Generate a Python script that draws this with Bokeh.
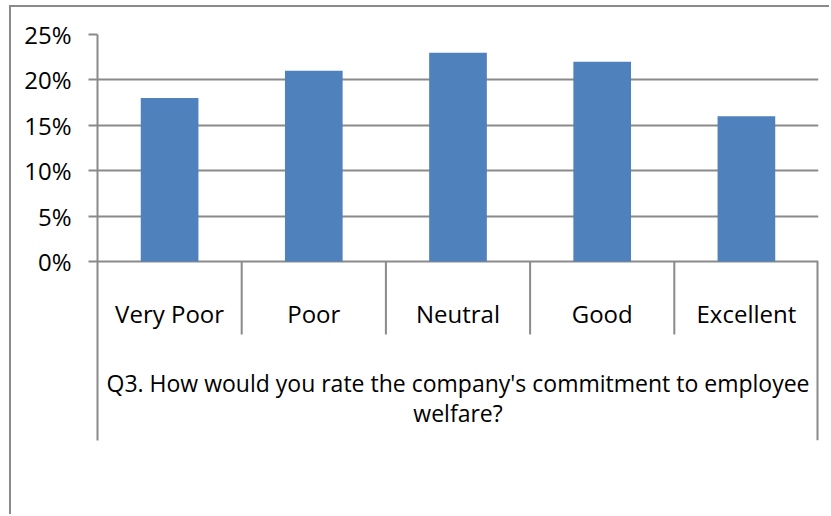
from bokeh.plotting import figure
from bokeh.models import Range1d, FixedTicker, NumeralTickFormatter, ColumnDataSource
from bokeh.embed import file_html
from bokeh.resources import INLINE
from bokeh.core.properties import value

# ---- data ----
categories = ["Very Poor", "Poor", "Neutral", "Good", "Excellent"]
percentages = [0.18, 0.21, 0.23, 0.22, 0.16]
y_ticks = [0.0, 0.05, 0.10, 0.15, 0.20, 0.25]
axis_title_lines = ["Q3. How would you rate the company's commitment to employee",
                    "welfare?"]

BAR = "#4F81BD"
GRID = "#8a8a8a"
FONT = "Open Sans"

# pixel helpers (page y -> data y); 0% at page y 261, 25% at page y 34
PX_PER_UNIT = (261 - 34) / 0.25
def ydata(page_y):
    return (261 - page_y) / PX_PER_UNIT

n = len(categories)
p = figure(width=820, height=509, output_backend="svg", toolbar_location=None,
           x_range=Range1d(0, n), y_range=Range1d(ydata(440), 0.25),
           x_axis_location=None, min_border_left=86, min_border_right=13,
           min_border_top=27, min_border_bottom=76,
           styles={"margin-left": "9px", "margin-top": "5px",
                   "border-left": "2px solid #8a8a8a", "border-top": "2px solid #8a8a8a"})
p.outline_line_color = None
p.background_fill_color = "white"
p.border_fill_color = "white"

# y axis
yax = p.yaxis[0]
yax.ticker = FixedTicker(ticks=y_ticks)
yax.formatter = NumeralTickFormatter(format="0%")
yax.major_tick_out = 9
yax.major_tick_in = 0
yax.minor_tick_line_color = None
yax.major_tick_line_color = GRID
yax.major_tick_line_width = 2
yax.axis_line_color = GRID
yax.axis_line_width = 2
yax.major_label_standoff = 17
yax.major_label_text_font = FONT
yax.major_label_text_font_size = "24px"
yax.major_label_text_color = "black"

p.xgrid.visible = False
p.ygrid.ticker = FixedTicker(ticks=y_ticks)
p.ygrid.grid_line_color = GRID
p.ygrid.grid_line_width = 2

# bars
xc = [i + 0.5 for i in range(n)]
src = ColumnDataSource(dict(x=xc, top=percentages, cat=categories))
p.vbar(x="x", top="top", bottom=0, width=0.4, source=src, fill_color=BAR, line_color=None)

# category separators below axis
sep_x = list(range(1, n))
p.segment(x0=sep_x, x1=sep_x, y0=[0] * len(sep_x), y1=[ydata(334)] * len(sep_x),
          line_color=GRID, line_width=2)
p.segment(x0=[n], x1=[n], y0=[0], y1=[ydata(440)], line_color=GRID, line_width=4)

# category labels
p.text(x="x", y=ydata(313), text="cat", source=src, text_align="center",
       text_baseline="alphabetic", text_font=value(FONT), text_font_size="24px",
       text_color="black")

# axis title
p.text(x=[n / 2, n / 2], y=[ydata(382), ydata(412)], text=axis_title_lines,
       text_align="center", text_baseline="alphabetic", text_font=value(FONT),
       text_font_size="23px", text_color="black")

open("out.html", "w").write(file_html(p, INLINE))
